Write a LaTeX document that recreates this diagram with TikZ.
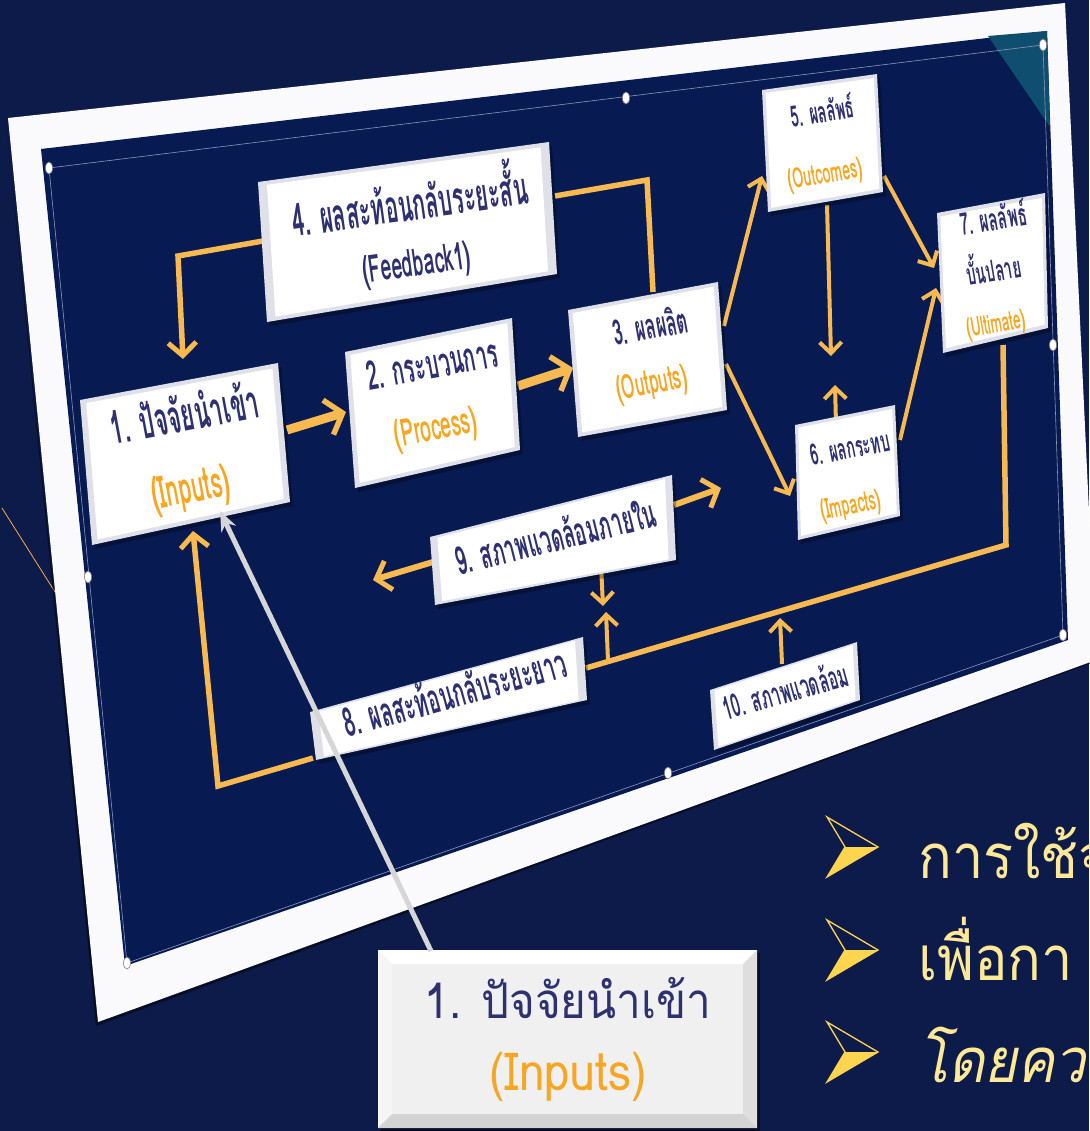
\documentclass[tikz,border=0pt]{standalone}
\usepackage{fontspec}
\setmainfont{Liberation Sans}
\newfontfamily\thai[Script=Thai]{Loma}
\newfontfamily\thaisl[Script=Thai,FakeSlant=0.22]{Loma}
\usetikzlibrary{arrows.meta,calc}
\definecolor{bgc}{RGB}{13,27,74}
\definecolor{slidec}{RGB}{7,27,82}
\definecolor{framec}{RGB}{250,250,252}
\definecolor{ycol}{RGB}{248,186,80}
\definecolor{navyt}{RGB}{46,49,112}
\definecolor{orgt}{RGB}{246,166,35}
\definecolor{tealc}{RGB}{16,78,112}
\definecolor{bullc}{RGB}{255,212,78}
\definecolor{bullt}{RGB}{255,232,150}
\definecolor{bevc}{RGB}{224,224,232}
\definecolor{ptrc}{RGB}{214,214,216}
\definecolor{selc}{RGB}{140,150,185}
\newcommand\fs[1]{\fontsize{#1}{#1}\selectfont}
\newcommand\bbox[4]{%
  \fill[black,opacity=.3,shift={(3,4)}] (#1)--(#2)--(#3)--(#4)--cycle;
  \fill[bevc] (#1)--(#2)--(#3)--(#4)--cycle;
  \fill[white] ($(#1)!.03!(#3)$)--($(#2)!.03!(#4)$)--($(#3)!.03!(#1)$)--($(#4)!.03!(#2)$)--cycle;}
\newcommand\bull[1]{%
  \begin{scope}[shift={(0,#1)}]
    \fill[bullc] (845,0)--(878,0)--(827,30)--cycle;
    \draw[bullc,line width=1.3,line join=miter] (827,-30)--(878,0)--(827,30)--(845,0)--cycle;
  \end{scope}}
\tikzset{
  bt/.style={text=navyt, font=\thai\bfseries, inner sep=0},
  ot/.style={text=orgt, font=\thai\bfseries, inner sep=0},
  fbline/.style={draw=ycol, line width=5.5, line join=miter},
  fbarr/.style={fbline, -{Straight Barb[length=13pt,width=28pt,line width=5pt]}},
  thickarr/.style={draw=ycol, line width=9, -{Straight Barb[length=15pt,width=36pt,line width=5.5pt]}},
  midarr/.style={draw=ycol, line width=6, -{Straight Barb[length=13pt,width=30pt,line width=5pt]}},
  thinarr/.style={draw=ycol, line width=4, -{Straight Barb[length=11pt,width=22pt,line width=4pt]}},
  handle/.style={fill=white, draw=gray, line width=.6},
}
\begin{document}
\begin{tikzpicture}[x=1pt,y=-1pt]
\useasboundingbox (0,0) rectangle (1089,1131);
\fill[bgc] (0,0) rectangle (1089,1131);
% thin golden line at left
\draw[ycol!80!orange, line width=.8] (2,508) -- (55,592);
% white frame
\fill[black,opacity=.5] (6,121) -- (96,1026) -- (1100,660) -- (1100,640) -- (98,1018) -- cycle;
\fill[framec] (8,118) -- (1065,3) -- (1096,660) -- (98,1022) -- cycle;
% slide
\fill[slidec] (41,149) -- (1047,31) -- (1068,640) -- (125,966) -- cycle;
\fill[tealc] (988,36) -- (1047,31) -- (1050,127) -- cycle;
% selection outline and handles
\draw[selc, line width=.6] (49,168) -- (1043,45) -- (1063,635) -- (127,963) -- cycle;
\foreach \p in {(49,168),(626,98),(1043,45),(1053,345),(1063,635),(668,773),(127,963),(88,577)}
  \fill[handle] \p ellipse [x radius=3.5, y radius=6];

% ---------- named connector points ----------
\coordinate (p4L) at (263,241);
\coordinate (k1) at (178,256);
\coordinate (p1T) at (183,359);
\coordinate (p3T) at (653,292);
\coordinate (k2) at (647,180);
\coordinate (p4R) at (555,196);
\coordinate (p1R) at (287,430);
\coordinate (p2L) at (346,412);
\coordinate (p2R) at (518,386);
\coordinate (p3L) at (573,368);
\coordinate (p3R1) at (724,326);
\coordinate (p5L) at (762,176);
\coordinate (p3R2) at (726,364);
\coordinate (p6L) at (790,496);
\coordinate (p5B) at (827,205);
\coordinate (m1) at (831,356);
\coordinate (p6T) at (836,424);
\coordinate (m2) at (835,385);
\coordinate (p5R) at (884,176);
\coordinate (p7L1) at (934,268);
\coordinate (p6R) at (900,440);
\coordinate (p7L2) at (936,288);
\coordinate (p7B) at (1003,345);
\coordinate (k3) at (1006,545);
\coordinate (p8R) at (586,668);
\coordinate (p9R) at (674,505);
\coordinate (r9) at (721,488);
\coordinate (p9L) at (433,562);
\coordinate (l9) at (373,580);
\coordinate (p9B) at (601,565);
\coordinate (d9) at (603,606);
\coordinate (q1) at (608,661);
\coordinate (u1) at (606,612);
\coordinate (p10T) at (782,664);
\coordinate (u2) at (780,618);
\coordinate (p8L) at (313,758);
\coordinate (k4) at (218,786);
\coordinate (p1B) at (193,531);
\coordinate (c1T) at (431,951);
\coordinate (g1) at (220,511);

% ---------- connectors ----------
\draw[fbarr] (p4L) -- (k1) -- (p1T);
\draw[fbline] (p3T) -- (k2) -- (p4R);
\draw[thickarr] (p1R) -- (p2L);
\draw[thickarr] (p2R) -- (p3L);
\draw[thinarr] (p3R1) -- (p5L);
\draw[thinarr] (p3R2) -- (p6L);
\draw[thinarr] (p5B) -- (m1);
\draw[thinarr] (p6T) -- (m2);
\draw[thinarr] (p5R) -- (p7L1);
\draw[thinarr] (p6R) -- (p7L2);
\draw[fbline] (p7B) -- (k3) -- (p8R);
\draw[midarr] (p9R) -- (r9);
\draw[midarr] (p9L) -- (l9);
\draw[thinarr] (p9B) -- (d9);
\draw[thinarr] (q1) -- (u1);
\draw[thinarr] (p10T) -- (u2);
\draw[fbarr] (p8L) -- (k4) -- (p1B);

% ---------- boxes ----------
\bbox{258,182}{549,142}{557,274}{267,322}
\bbox{80,400}{278,363}{290,502}{92,545}
\bbox{345,352}{512,318}{520,450}{355,488}
\bbox{568,310}{718,282}{727,410}{578,437}
\bbox{762,90}{877,74}{883,192}{768,212}
\bbox{937,213}{1045,193}{1048,328}{943,353}
\bbox{795,425}{895,405}{900,516}{798,540}
\bbox{430,537}{672,475}{676,560}{435,605}
\bbox{310,712}{583,637}{587,700}{316,760}
\bbox{710,690}{857,642}{860,700}{714,750}

% ---------- box texts ----------
\node[bt, rotate=8, xscale=.68, yscale=1.4] (t4a) at (409,197) {\fs{32}4. ผลสะท้อนกลับระยะสั้น};
\node[bt, rotate=8, xscale=.72, yscale=1.4] (t4b) at (417,266) {\fs{27}(Feedback1)};
\node[bt, rotate=10.5, xscale=.7, yscale=1.4] (t1a) at (184,412) {\fs{33}1. ปัจจัยนำเข้า};
\node[ot, rotate=10.5, xscale=.72, yscale=1.4] (t1b) at (191,491) {\fs{32}(Inputs)};
\node[bt, rotate=10.5, xscale=.7, yscale=1.4] (t2a) at (432,364) {\fs{29}2. กระบวนการ};
\node[ot, rotate=10.5, xscale=.72, yscale=1.4] (t2b) at (436,430) {\fs{27}(Process)};
\node[bt, rotate=10.5, xscale=.7, yscale=1.4] (t3a) at (650,325) {\fs{25}3. ผลผลิต};
\node[ot, rotate=10.5, xscale=.72, yscale=1.4] (t3b) at (652,385) {\fs{24}(Outputs)};
\node[bt, rotate=9.5, xscale=.7, yscale=1.4] (t5a) at (822,110) {\fs{21}5. ผลลัพธ์};
\node[ot, rotate=9.5, xscale=.72, yscale=1.4] (t5b) at (825,176) {\fs{20}(Outcomes)};
\node[bt, rotate=9.5, xscale=.7, yscale=1.4] (t7a) at (993,217) {\fs{22}7. ผลลัพธ์};
\node[bt, rotate=9.5, xscale=.7, yscale=1.4] (t7b) at (993,266) {\fs{21}บั้นปลาย};
\node[ot, rotate=9.5, xscale=.72, yscale=1.4] (t7c) at (996,326) {\fs{19}(Ultimate)};
\node[bt, rotate=11, xscale=.7, yscale=1.4] (t6a) at (850,448) {\fs{21}6. ผลกระทบ};
\node[ot, rotate=11, xscale=.72, yscale=1.4] (t6b) at (851,507) {\fs{20}(Impacts)};
\node[bt, rotate=14, xscale=.7, yscale=1.4] (t9) at (555,535) {\fs{28}9. สภาพแวดล้อมภายใน};
\node[bt, rotate=15.5, xscale=.7, yscale=1.4] (t8) at (454,691) {\fs{29}8. ผลสะท้อนกลับระยะยาว};
\node[bt, rotate=15.5, xscale=.7, yscale=1.4] (t10) at (785,690) {\fs{23}10. สภาพแวดล้อม};

% ---------- callout ----------
\fill[black,opacity=.5] (381,953) rectangle (760,1131);
\fill[gray!18] (378,950) rectangle (757,1128);
\fill[white] (378,950) -- (757,950) -- (743,964) -- (392,964) -- cycle;
\fill[gray!8] (378,950) -- (392,964) -- (392,1114) -- (378,1128) -- cycle;
\fill[gray!26] (757,950) -- (743,964) -- (743,1114) -- (757,1128) -- cycle;
\fill[gray!34] (378,1128) -- (392,1114) -- (743,1114) -- (757,1128) -- cycle;
\fill[gray!12] (392,964) rectangle (743,1114);
\node[text=navyt, font=\thai, inner sep=0, yscale=1.12] (c1a) at (568,998) {\fs{44}1. ปัจจัยนำเข้า};
\node[text=orgt, font=\thai, inner sep=0, xscale=.92, yscale=1.05] (c1b) at (568,1077) {\fs{50}(Inputs)};
\draw[ptrc, line width=5, -{Stealth[length=20pt,width=16pt]}] (c1T) -- (g1);

% ---------- bullets ----------
\bull{847}
\bull{950}
\bull{1052}
\node[text=bullt, anchor=base west, inner sep=0, font=\thai, yscale=1.1] (b1) at (918,878) {\fs{56}การใช้จ};
\node[text=bullt, anchor=base west, inner sep=0, font=\thai, yscale=1.1] (b2) at (918,980) {\fs{56}เพื่อกา};
\node[text=bullt, anchor=base west, inner sep=0, font=\thaisl, yscale=1.1] (b3) at (918,1082) {\fs{56}โดยควา};
\end{tikzpicture}
\end{document}
